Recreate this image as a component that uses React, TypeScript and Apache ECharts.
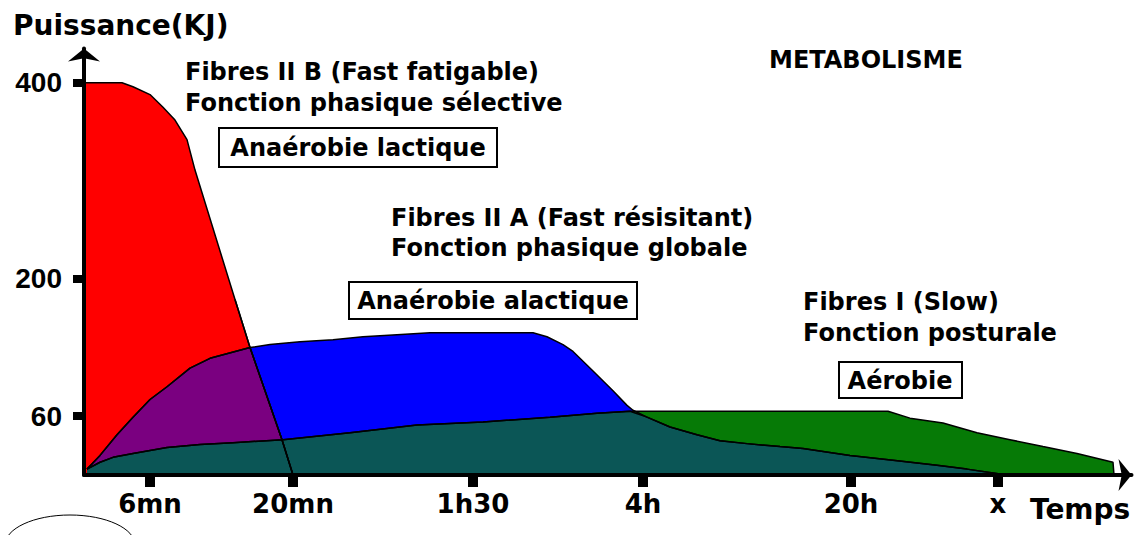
import React, { useEffect, useRef } from "react";
import * as echarts from "echarts";

// Values (x: schematic time position, y: Puissance)
const xTickPositions = [66, 209, 389, 559, 767, 914];
const xTickLabels = ["6mn", "20mn", "1h30", "4h", "20h", "x"];
const yTickValues = [60, 200, 400];
const yTickLabels = ["60", "200", "400"];

// Fibres II B (Fast fatigable) - anaérobie lactique
const fibresIIB: [number, number][] = [
  [0, 400], [38, 400], [49, 396], [66, 388], [79, 375], [91, 362], [103, 342],
  [111, 311], [151, 179], [166, 130], [198, 36], [209, 0],
];

// Fibres II A (Fast résisitant) - anaérobie alactique
const fibresIIA: [number, number][] = [
  [3, 6], [16, 20], [33, 41], [49, 59], [66, 77], [83, 90], [106, 109], [126, 119],
  [166, 130], [186, 133], [216, 136], [249, 138], [279, 141], [313, 143], [346, 145],
  [449, 145], [463, 141], [479, 133], [489, 126], [509, 106], [529, 86], [543, 71],
  [549, 66], [563, 59], [586, 49], [613, 41], [636, 35], [663, 32], [696, 29],
  [719, 27], [766, 20], [809, 15], [853, 10], [883, 6], [916, 1], [918, 0],
];

// Fibres I (Slow) - aérobie
const fibresI: [number, number][] = [
  [3, 6], [16, 13], [29, 18], [49, 22], [83, 28], [116, 31], [149, 33], [199, 36],
  [266, 43], [333, 51], [399, 54], [466, 59], [513, 63], [546, 65], [804, 65],
  [826, 58], [859, 53], [893, 43], [926, 36], [959, 29], [993, 22], [1029, 13], [1030, 0],
];

const FONT = '"DejaVu Sans", sans-serif';

export default function App() {
  const ref = useRef<HTMLDivElement>(null);

  useEffect(() => {
    if (!ref.current) return;
    const chart = echarts.init(ref.current, null, { renderer: "svg" });

    // overlap zones built from the curves above
    const overlapIIBIIA = [
      ...fibresIIA.filter((p) => p[0] <= 166),
      ...fibresIIB.filter((p) => p[0] > 166),
    ];
    const overlapIIAI = [
      ...fibresI.filter((p) => p[0] <= 546),
      ...fibresIIA.filter((p) => p[0] >= 563),
    ];
    const edgeIIB = fibresIIB.filter((p) => p[0] >= 151);

    const area = (name: string, data: [number, number][], color: string) => ({
      name,
      type: "line",
      data,
      showSymbol: false,
      symbol: "none",
      lineStyle: { color: "#000", width: 1.5 },
      areaStyle: { color, opacity: 1, origin: "start" },
      emphasis: { disabled: true },
      silent: true,
    });

    const txt = (text: string, x: number, y: number, size = 24, align = "left") => ({
      type: "text",
      x,
      y,
      style: {
        text,
        fill: "#000",
        font: `bold ${size}px ${FONT}`,
        align,
        verticalAlign: "middle",
      },
    });
    const box = (x: number, y: number, w: number, h: number) => ({
      type: "rect",
      shape: { x, y, width: w, height: h },
      style: { fill: "#fff", stroke: "#000", lineWidth: 2 },
    });

    chart.setOption({
      animation: false,
      backgroundColor: "#fff",
      grid: { left: 84, right: 7.5, top: 48.5, bottom: 60, containLabel: false },
      xAxis: {
        type: "value",
        min: 0,
        max: 1047.5,
        z: 10,
        splitLine: { show: false },
        axisLine: {
          show: true,
          symbol: ["none", "arrow"],
          symbolSize: [24, 13],
          lineStyle: { color: "#000", width: 4 },
        },
        axisTick: {
          show: true,
          customValues: xTickPositions,
          length: 12,
          lineStyle: { color: "#000", width: 10 },
        },
        axisLabel: {
          customValues: xTickPositions,
          formatter: (v: number) => xTickLabels[xTickPositions.indexOf(v)] ?? "",
          fontFamily: FONT,
          fontWeight: "bold",
          fontSize: 26,
          color: "#000",
          margin: 16,
        },
      },
      yAxis: {
        type: "value",
        min: 0,
        max: 435,
        z: 10,
        splitLine: { show: false },
        axisLine: {
          show: true,
          symbol: ["none", "arrow"],
          symbolSize: [24, 13],
          lineStyle: { color: "#000", width: 4 },
        },
        axisTick: {
          show: true,
          customValues: yTickValues,
          length: 11,
          lineStyle: { color: "#000", width: 8 },
        },
        axisLabel: {
          customValues: yTickValues,
          formatter: (v: number) => yTickLabels[yTickValues.indexOf(v)] ?? "",
          fontFamily: '"Liberation Sans", Arial, sans-serif',
          fontWeight: "bold",
          fontSize: 28,
          color: "#000",
          margin: 22,
        },
      },
      series: [
        area("Fibres II B", fibresIIB, "#ff0000"),
        area("Fibres II A", fibresIIA, "#0000ff"),
        area("II B + II A", overlapIIBIIA, "#7a0080"),
        area("Fibres I", fibresI, "#067a06"),
        area("II A + I", overlapIIAI, "#0b5656"),
        {
          name: "edge",
          type: "line",
          data: edgeIIB,
          showSymbol: false,
          symbol: "none",
          lineStyle: { color: "#000", width: 1.5 },
          silent: true,
        },
      ],
      graphic: [
        txt("Puissance(KJ)", 13, 25, 28),
        txt("Temps", 1030, 509, 28),
        txt("METABOLISME", 769, 60, 24),
        txt("Fibres II B (Fast fatigable)", 185, 72),
        txt("Fonction phasique sélective", 185, 103),
        box(219, 128, 278, 39),
        txt("Anaérobie lactique", 358, 148, 24, "center"),
        txt("Fibres II A (Fast résisitant)", 391, 218),
        txt("Fonction phasique globale", 391, 248),
        box(349, 282, 288, 37),
        txt("Anaérobie alactique", 493, 301, 24, "center"),
        txt("Fibres I (Slow)", 803, 302),
        txt("Fonction posturale", 803, 333),
        box(839, 362, 123, 36),
        txt("Aérobie", 900, 381, 24, "center"),
        {
          type: "ellipse",
          shape: { cx: 70, cy: 545, rx: 65, ry: 30 },
          style: { fill: "none", stroke: "#000", lineWidth: 1 },
        },
      ],
    });

    return () => chart.dispose();
  }, []);

  return (
    <div
      ref={ref}
      style={{ position: "fixed", left: 0, top: 0, width: 1139, height: 535, background: "#fff" }}
    />
  );
}
